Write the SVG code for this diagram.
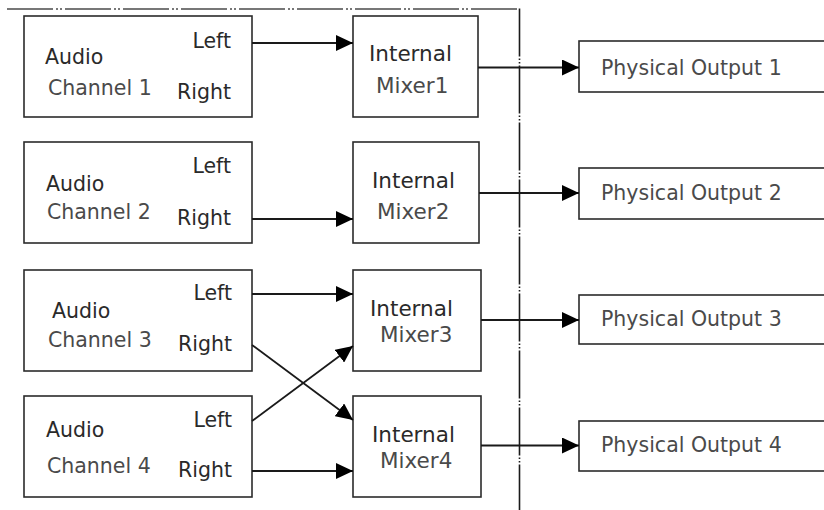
<svg xmlns="http://www.w3.org/2000/svg" width="824" height="510" viewBox="0 0 824 510">
<defs>
<style>
.box{fill:#fff;stroke:#2b2b2b;stroke-width:1.6}
.t{font-family:"DejaVu Sans","Liberation Sans",sans-serif;font-size:20.5px;fill:#2a2a2a}
.g{fill:#4a4a4a}
.m{font-size:21.5px}
.e{text-anchor:end}
.ln{stroke:#1a1a1a;stroke-width:1.8;fill:none}
</style>
<marker id="ah" viewBox="0 0 17 16" refX="17" refY="8" markerWidth="17" markerHeight="16" markerUnits="userSpaceOnUse" orient="auto">
<path d="M0,0 L17,8 L0,16 Z" fill="#000"/>
</marker>
</defs>
<rect width="824" height="510" fill="#fff"/>
<g id="boundary">
<line x1="7" y1="9" x2="519.5" y2="9" stroke="#777" stroke-width="1.8" stroke-dasharray="46 3 2 2 2 3"/>
<line x1="519.5" y1="8.5" x2="519.5" y2="510" stroke="#1a1a1a" stroke-width="1.6" stroke-dasharray="48 2 1.5 2 1.5 2"/>
</g>
<g id="ch1"><rect class="box" x="24" y="16" width="228" height="101"/>
<text class="t" x="45" y="64">Audio</text><text class="t g" x="48" y="95">Channel 1</text>
<text class="t e" x="231" y="48">Left</text><text class="t e" x="231" y="99">Right</text></g>
<g id="ch2"><rect class="box" x="24" y="142" width="228" height="101"/>
<text class="t" x="46" y="191">Audio</text><text class="t g" x="47" y="219">Channel 2</text>
<text class="t e" x="231" y="173">Left</text><text class="t e" x="231" y="225">Right</text></g>
<g id="ch3"><rect class="box" x="24" y="270" width="228" height="101"/>
<text class="t" x="52" y="318">Audio</text><text class="t g" x="48" y="347">Channel 3</text>
<text class="t e" x="232" y="300">Left</text><text class="t e" x="232" y="351">Right</text></g>
<g id="ch4"><rect class="box" x="24" y="396" width="228" height="101"/>
<text class="t" x="46" y="437">Audio</text><text class="t g" x="47" y="473">Channel 4</text>
<text class="t e" x="232" y="427">Left</text><text class="t e" x="232" y="477">Right</text></g>
<g id="mix1"><rect class="box" x="353" y="16" width="125" height="101"/>
<text class="t m" x="369" y="61">Internal</text><text class="t m g" x="376" y="93">Mixer1</text></g>
<g id="mix2"><rect class="box" x="353" y="142" width="126" height="101"/>
<text class="t m" x="372" y="188">Internal</text><text class="t m g" x="377" y="219">Mixer2</text></g>
<g id="mix3"><rect class="box" x="353" y="270" width="128" height="101"/>
<text class="t m" x="370" y="316">Internal</text><text class="t m g" x="380" y="342">Mixer3</text></g>
<g id="mix4"><rect class="box" x="353" y="396" width="128" height="101"/>
<text class="t m" x="372" y="442">Internal</text><text class="t m g" x="380" y="468">Mixer4</text></g>
<g id="out1"><rect class="box" x="579" y="41" width="260" height="51"/>
<text class="t g" x="601" y="75">Physical Output 1</text></g>
<g id="out2"><rect class="box" x="579" y="168" width="260" height="51"/>
<text class="t g" x="601" y="200">Physical Output 2</text></g>
<g id="out3"><rect class="box" x="579" y="295" width="260" height="49"/>
<text class="t g" x="601" y="326">Physical Output 3</text></g>
<g id="out4"><rect class="box" x="579" y="421" width="260" height="50"/>
<text class="t g" x="601" y="452">Physical Output 4</text></g>
<g id="connectors">
<line class="ln" x1="252" y1="43" x2="353" y2="43" marker-end="url(#ah)"/>
<line class="ln" x1="252" y1="219" x2="353" y2="219" marker-end="url(#ah)"/>
<line class="ln" x1="252" y1="294" x2="353" y2="294" marker-end="url(#ah)"/>
<line class="ln" x1="252" y1="345" x2="353" y2="420" marker-end="url(#ah)"/>
<line class="ln" x1="252" y1="421" x2="353" y2="346" marker-end="url(#ah)"/>
<line class="ln" x1="252" y1="471" x2="353" y2="471" marker-end="url(#ah)"/>
<line class="ln" x1="478" y1="67.5" x2="579" y2="67.5" marker-end="url(#ah)"/>
<line class="ln" x1="479" y1="193" x2="579" y2="193" marker-end="url(#ah)"/>
<line class="ln" x1="481" y1="320" x2="579" y2="320" marker-end="url(#ah)"/>
<line class="ln" x1="481" y1="445.5" x2="579" y2="445.5" marker-end="url(#ah)"/>
</g>
</svg>
